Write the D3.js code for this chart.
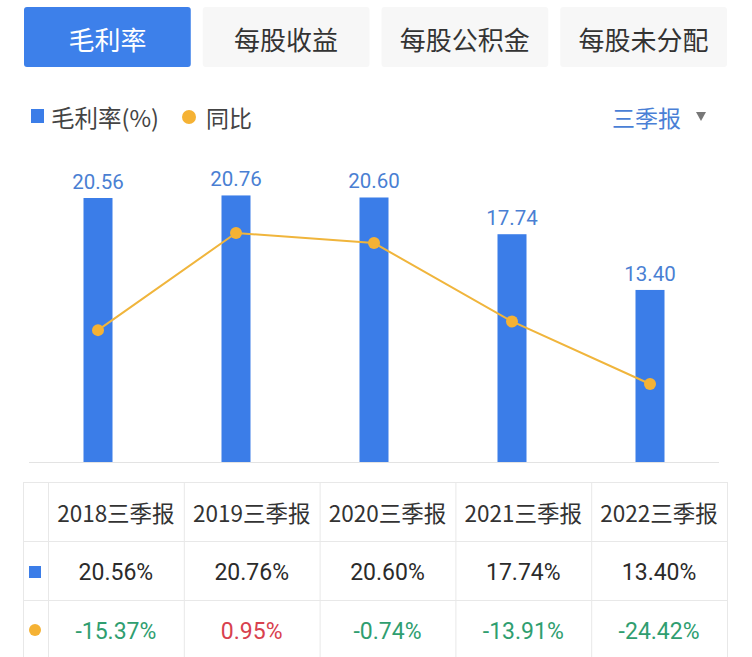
<!DOCTYPE html>
<html>
<head>
<meta charset="utf-8">
<script src="https://cdn.jsdelivr.net/npm/d3@7"></script>
<style>
  body { margin: 0; background: #fff; }
  text { font-family: "Noto Sans CJK SC", "Noto Sans", sans-serif; }
  .num { font-family: Roboto, "Noto Sans", sans-serif; }
</style>
</head>
<body>
<div id="chart"></div>
<script>
// data
const tabs = ["毛利率", "每股收益", "每股公积金", "每股未分配"];
const periods = ["2018三季报", "2019三季报", "2020三季报", "2021三季报", "2022三季报"];
const margin = [20.56, 20.76, 20.60, 17.74, 13.40];
const yoy = [-15.37, 0.95, -0.74, -13.91, -24.42];

const W = 752, H = 657;
const blue = "#3b7de8", orange = "#f5b234";

const svg = d3.select("#chart").append("svg")
  .attr("width", W).attr("height", H);

// tabs
const tabX = d3.scaleBand().domain(tabs).range([24, 727]).paddingInner(0.067).paddingOuter(0);
const tab = svg.append("g").selectAll("g").data(tabs).enter().append("g");
tab.append("rect")
  .attr("x", d => tabX(d)).attr("y", 7)
  .attr("width", tabX.bandwidth()).attr("height", 60).attr("rx", 3)
  .attr("fill", (d, i) => i === 0 ? "#3d80ea" : "#f7f7f7");
tab.append("text")
  .attr("x", d => tabX(d) + tabX.bandwidth() / 2).attr("y", 38)
  .attr("text-anchor", "middle").attr("dominant-baseline", "central")
  .attr("font-size", 26)
  .attr("fill", (d, i) => i === 0 ? "#fff" : "#333")
  .text(d => d);

// legend
const legend = svg.append("g");
legend.append("rect").attr("x", 31).attr("y", 109).attr("width", 13).attr("height", 14).attr("fill", blue);
legend.append("text").attr("x", 51).attr("y", 117).attr("dominant-baseline", "central")
  .attr("font-size", 23.5).attr("fill", "#444").text("毛利率(%)");
legend.append("circle").attr("cx", 189).attr("cy", 117).attr("r", 7).attr("fill", orange);
legend.append("text").attr("x", 206).attr("y", 117).attr("dominant-baseline", "central")
  .attr("font-size", 23).attr("fill", "#444").text("同比");
legend.append("text").attr("x", 681).attr("y", 117).attr("dominant-baseline", "central")
  .attr("text-anchor", "end").attr("font-size", 23).attr("fill", "#4a7fd6").text("三季报");
legend.append("path").attr("d", "M696,112 L706,112 L701,121 Z").attr("fill", "#777");

// chart scales
const x = d3.scaleBand().domain(periods).range([29, 719]);
const y = d3.scaleLinear().domain([0, 24]).range([462, 462 - 24 * 12.84]);
const y2 = d3.scaleLinear().domain([-30, 5]).range([417.2, 208.9]);
const bw = 29;
const cx = d => x(d) + x.bandwidth() / 2;

svg.append("line").attr("x1", 29).attr("x2", 719).attr("y1", 462.5).attr("y2", 462.5)
  .attr("stroke", "#e3e3e3");

svg.append("g").selectAll("rect").data(periods).enter().append("rect")
  .attr("x", d => cx(d) - bw / 2).attr("width", bw)
  .attr("y", (d, i) => y(margin[i])).attr("height", (d, i) => y(0) - y(margin[i]))
  .attr("fill", blue);

svg.append("g").selectAll("text").data(periods).enter().append("text")
  .attr("class", "num")
  .attr("x", d => cx(d)).attr("y", (d, i) => y(margin[i]) - 9)
  .attr("text-anchor", "middle").attr("font-size", 20.5)
  .attr("fill", "#4a7fd3")
  .text((d, i) => margin[i].toFixed(2));

const line = d3.line().x((d, i) => cx(periods[i])).y(d => y2(d));
svg.append("path").datum(yoy).attr("d", line)
  .attr("fill", "none").attr("stroke", "#f0b53c").attr("stroke-width", 2);
svg.append("g").selectAll("circle").data(yoy).enter().append("circle")
  .attr("cx", (d, i) => cx(periods[i])).attr("cy", d => y2(d)).attr("r", 6)
  .attr("fill", orange);

// table
const colX = d3.scaleBand().domain(periods).range([48, 727]);
const rowY = [482, 541, 600, 659];
const grid = svg.append("g").attr("stroke", "#e8e8e8").attr("fill", "none");
rowY.forEach(r => grid.append("line").attr("x1", 23).attr("x2", 727).attr("y1", r + 0.5).attr("y2", r + 0.5));
[23, 48].concat(periods.map(p => colX(p) + colX.bandwidth())).forEach(c =>
  grid.append("line").attr("x1", c + 0.5).attr("x2", c + 0.5).attr("y1", 482).attr("y2", H));

const tcx = d => colX(d) + colX.bandwidth() / 2;
svg.append("g").selectAll("text").data(periods).enter().append("text")
  .attr("x", d => tcx(d)).attr("y", 512).attr("text-anchor", "middle").attr("dominant-baseline", "central")
  .attr("font-size", 22.5).attr("fill", "#333").text(d => d);

svg.append("rect").attr("x", 29).attr("y", 566).attr("width", 12).attr("height", 12).attr("fill", blue);
svg.append("g").selectAll("text").data(periods).enter().append("text")
  .attr("class", "num")
  .attr("x", d => tcx(d)).attr("y", 572).attr("text-anchor", "middle").attr("dominant-baseline", "central")
  .attr("font-size", 23).attr("fill", "#2b2b2b").text((d, i) => margin[i].toFixed(2) + "%");

svg.append("circle").attr("cx", 35).attr("cy", 630).attr("r", 6).attr("fill", orange);
svg.append("g").selectAll("text").data(periods).enter().append("text")
  .attr("class", "num")
  .attr("x", d => tcx(d)).attr("y", 631).attr("text-anchor", "middle").attr("dominant-baseline", "central")
  .attr("font-size", 23)
  .attr("fill", (d, i) => yoy[i] >= 0 ? "#d8414e" : "#2f9e70")
  .text((d, i) => yoy[i].toFixed(2) + "%");
</script>
</body>
</html>
